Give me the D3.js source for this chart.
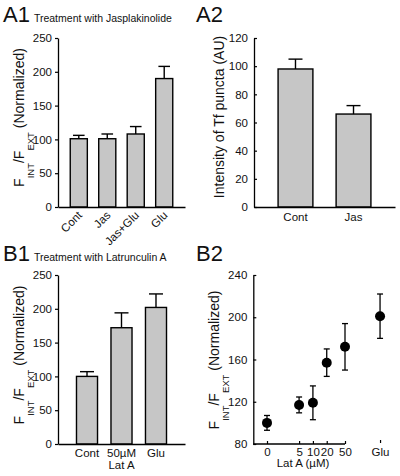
<!DOCTYPE html>
<html><head><meta charset="utf-8">
<script src="https://cdn.jsdelivr.net/npm/d3@7"></script>
<style>body{margin:0;background:#fff} svg{display:block} text{font-family:"Liberation Sans",Arial,sans-serif;fill:#111}</style>
</head><body><svg id="c" width="400" height="476"></svg>
<script>
// ---- data ----
const a1Cats = ["Cont", "Jas", "Jas+Glu", "Glu"];
const a1Means = [101, 101, 108, 190];
const a1Errs = [5, 7, 11, 18];
const a1Ticks = [0, 50, 100, 150, 200, 250];

const a2Cats = ["Cont", "Jas"];
const a2Means = [98, 66];
const a2Errs = [7, 6];
const a2Ticks = [0, 20, 40, 60, 80, 100, 120];

const b1Cats = ["Cont", "50µM|Lat A", "Glu"];
const b1Means = [100, 172, 202];
const b1Errs = [7, 22, 20];
const b1Ticks = [0, 50, 100, 150, 200, 250];

const b2Labels = ["0", "5", "10", "20", "50", "Glu"];
const b2Conc = [1, 5, 10, 20, 50, 290]; // "0" drawn at 1 on the log axis; Glu set apart
const b2Means = [100, 117, 119, 157, 172, 201];
const b2Errs = [7, 7.5, 16, 13, 22, 21];
const b2Ticks = [80, 120, 160, 200, 240];

const svg = d3.select("#c");
const BAR_FILL = "#c6c6c6";
const TICK_FS = 11.5;

function yLabelF(x, yc, g) {
  const t = g.append("text").attr("transform", `translate(${x},${yc}) rotate(-90)`)
    .attr("text-anchor", "middle").attr("font-size", 14);
  t.append("tspan").text("F");
  t.append("tspan").attr("dy", 10).attr("font-size", 9.5).text("INT");
  t.append("tspan").attr("dy", -10).text("/F");
  t.append("tspan").attr("dy", 10).attr("font-size", 9.5).text("EXT");
  t.append("tspan").attr("dy", -10).text("\u00a0(Normalized)");
}

function styleAxis(g) {
  g.selectAll("path.domain").attr("stroke", "#000").attr("stroke-width", 1.3);
  g.selectAll(".tick line").attr("stroke", "#000").attr("stroke-width", 1.2);
  g.selectAll(".tick text").attr("font-size", TICK_FS).attr("fill", "#111")
    .attr("font-family", '"Liberation Sans",Arial,sans-serif');
}

function barPanel(o) {
  const g = svg.append("g");
  const y = d3.scaleLinear().domain(o.yDomain).range(o.yRange);
  const x = d3.scaleBand().domain(o.cats).range(o.xRange)
    .paddingInner(o.pi).paddingOuter(o.po);
  // bars
  g.selectAll("rect.bar").data(o.cats).join("rect")
    .attr("x", d => x(d)).attr("width", x.bandwidth())
    .attr("y", (d, i) => y(o.means[i]))
    .attr("height", (d, i) => y(o.yDomain[0]) - y(o.means[i]))
    .attr("fill", BAR_FILL).attr("stroke", "#000").attr("stroke-width", 1.4);
  // error bars (upper only)
  const cw = Math.min(14, x.bandwidth() * 0.68);
  o.cats.forEach((c, i) => {
    const cx = x(c) + x.bandwidth() / 2;
    g.append("line").attr("x1", cx).attr("x2", cx)
      .attr("y1", y(o.means[i])).attr("y2", y(o.means[i] + o.errs[i]))
      .attr("stroke", "#000").attr("stroke-width", 1.4);
    g.append("line").attr("x1", cx - cw / 2).attr("x2", cx + cw / 2)
      .attr("y1", y(o.means[i] + o.errs[i])).attr("y2", y(o.means[i] + o.errs[i]))
      .attr("stroke", "#000").attr("stroke-width", 1.4);
  });
  // y axis
  const ya = g.append("g").attr("transform", `translate(${o.xRange[0]},0)`)
    .call(d3.axisLeft(y).tickValues(o.ticks).tickSize(o.tickIn ? -3 : 3)
      .tickSizeOuter(0).tickPadding(o.tickIn ? 6 : 3));
  styleAxis(ya);
  // x axis
  const xa = g.append("g").attr("transform", `translate(0,${o.yRange[0]})`)
    .call(d3.axisBottom(x).tickSize(0).tickSizeOuter(0).tickPadding(o.xPad));
  styleAxis(xa);
  if (o.rotate) {
    xa.selectAll(".tick text").attr("text-anchor", "end")
      .attr("dy", 0).attr("y", 0)
      .attr("transform", "translate(4,9) rotate(-45)");
  }
  if (o.twoLine) {
    xa.selectAll(".tick text").each(function (d) {
      const parts = d.split("|");
      const t = d3.select(this).text(null);
      parts.forEach((p, k) => t.append("tspan").attr("x", 0)
        .attr("dy", k === 0 ? "0.71em" : "1.05em").text(p));
    }).attr("dy", null);
  }
  return g;
}

// ---- A1 ----
barPanel({cats: a1Cats, means: a1Means, errs: a1Errs, ticks: a1Ticks,
  yDomain: [0, 250], yRange: [207, 38], xRange: [58, 185], pi: 0.4, po: 0.43,
  rotate: true, xPad: 6, tickIn: false});
// ---- A2 ----
barPanel({cats: a2Cats, means: a2Means, errs: a2Errs, ticks: a2Ticks,
  yDomain: [0, 120], yRange: [207, 38], xRange: [254, 395], pi: 0.4, po: 0.415,
  xPad: 6, tickIn: true});
// ---- B1 ----
barPanel({cats: b1Cats, means: b1Means, errs: b1Errs, ticks: b1Ticks,
  yDomain: [0, 250], yRange: [444, 275], xRange: [58, 185], pi: 0.39, po: 0.536,
  twoLine: true, xPad: 4.5, tickIn: false});

// ---- B2 ----
{
  const g = svg.append("g");
  const y = d3.scaleLinear().domain([80, 240]).range([444, 275]);
  const x = d3.scaleLog().domain([1, 50]).range([267, 345]);
  const x0 = 253.3;
  const ya = g.append("g").attr("transform", `translate(${x0},0)`)
    .call(d3.axisLeft(y).tickValues(b2Ticks).tickSize(-3).tickSizeOuter(0).tickPadding(6));
  styleAxis(ya);
  const xa = g.append("g").attr("transform", `translate(0,${y.range()[0]})`)
    .call(d3.axisBottom(x).tickValues(b2Conc).tickFormat((d, i) => b2Labels[i])
      .tickSize(-3).tickSizeOuter(0).tickPadding(4));
  styleAxis(xa);
  xa.select("path.domain").remove();
  // the Glu tick sits apart, slightly above the axis line
  xa.selectAll(".tick").filter((d, i) => i === b2Conc.length - 1).select("line")
    .attr("y1", -1).attr("y2", -4);
  g.append("line").attr("x1", x0).attr("x2", x(50))
    .attr("y1", y.range()[0]).attr("y2", y.range()[0])
    .attr("stroke", "#000").attr("stroke-width", 1.3);
  g.append("text").attr("x", 303).attr("y", 467).attr("text-anchor", "middle")
    .attr("font-size", TICK_FS).text("Lat A (µM)");
  // error bars + points
  b2Conc.forEach((c, i) => {
    const cx = x(c);
    g.append("line").attr("x1", cx).attr("x2", cx)
      .attr("y1", y(b2Means[i] - b2Errs[i])).attr("y2", y(b2Means[i] + b2Errs[i]))
      .attr("stroke", "#000").attr("stroke-width", 1.3);
    [b2Means[i] - b2Errs[i], b2Means[i] + b2Errs[i]].forEach(v =>
      g.append("line").attr("x1", cx - 3).attr("x2", cx + 3)
        .attr("y1", y(v)).attr("y2", y(v)).attr("stroke", "#000").attr("stroke-width", 1.3));
  });
  g.selectAll("circle").data(b2Conc).join("circle")
    .attr("cx", d => x(d)).attr("cy", (d, i) => y(b2Means[i])).attr("r", 5)
    .attr("fill", "#000");
}

// ---- axis titles ----
yLabelF(24, 117.5, svg);
yLabelF(24, 355, svg);
yLabelF(219, 360, svg);
svg.append("text").attr("transform", "translate(224,117) rotate(-90)")
  .attr("text-anchor", "middle").attr("font-size", 14).text("Intensity of Tf puncta (AU)");

// ---- panel titles ----
function panelTitle(x, y, big, small) {
  const t = svg.append("text").attr("x", x).attr("y", y);
  t.append("tspan").attr("font-size", 22).text(big);
  if (small) t.append("tspan").attr("font-size", 10.5).attr("dx", 4).text(small);
}
panelTitle(3, 22, "A1", "Treatment with Jasplakinolide");
panelTitle(196, 22, "A2");
panelTitle(3, 261, "B1", "Treatment with Latrunculin A");
panelTitle(196, 261, "B2");
</script>
</body></html>
